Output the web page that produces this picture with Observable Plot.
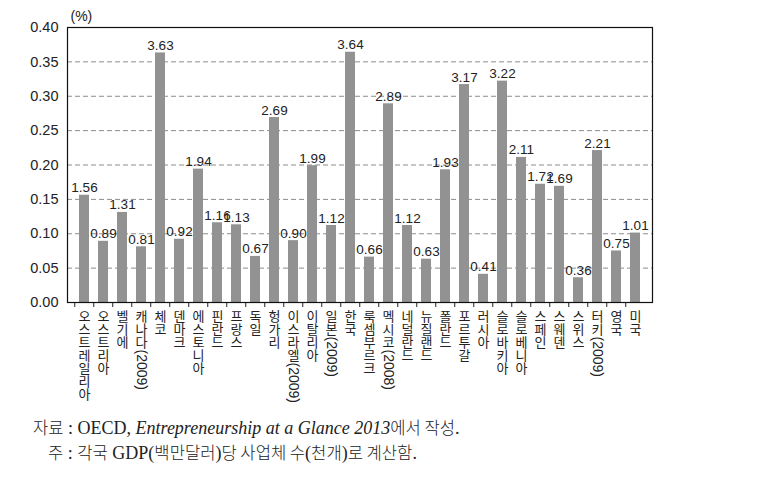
<!DOCTYPE html>
<html><head><meta charset="utf-8">
<script src="https://cdn.jsdelivr.net/npm/d3@7"></script>
<script src="https://cdn.jsdelivr.net/npm/@observablehq/plot@0.6"></script>
<style>
body{margin:0;background:#fff;}
#wrap{position:relative;width:767px;height:488px;overflow:hidden;}
.cap{position:absolute;font-family:"Liberation Serif",serif;font-size:18px;color:#222;white-space:nowrap;line-height:1}
.ko{font-family:"Noto Sans CJK KR",sans-serif;font-size:16.6px;font-weight:300}
</style></head><body>
<div id="wrap"><div id="chart"></div>
<div class="cap" style="left:33px;top:419px"><span class="ko">자료</span> : OECD, <i>Entrepreneurship at a Glance 2013</i><span class="ko">에서 작성</span>.</div>
<div class="cap" style="left:48px;top:444px"><span class="ko">주</span> : <span class="ko">각국</span> GDP(<span class="ko">백만달러</span>)<span class="ko">당 사업체 수</span>(<span class="ko">천개</span>)<span class="ko">로 계산함</span>.</div>
</div>
<script>
const countries = ["오스트레일리아","오스트리아","벨기에","캐나다(2009)","체코","덴마크","에스토니아","핀란드","프랑스","독일","헝가리","이스라엘(2009)","이탈리아","일본(2009)","한국","룩셈부르크","멕시코(2008)","네덜란드","뉴질랜드","폴란드","포르투갈","러시아","슬로바키아","슬로베니아","스페인","스웨덴","스위스","터키(2009)","영국","미국"];
const values = [0.156,0.089,0.131,0.081,0.363,0.092,0.194,0.116,0.113,0.067,0.269,0.090,0.199,0.112,0.364,0.066,0.289,0.112,0.063,0.193,0.317,0.041,0.322,0.211,0.172,0.169,0.036,0.221,0.075,0.101];
const valueLabels = ["1.56","0.89","1.31","0.81","3.63","0.92","1.94","1.16","1.13","0.67","2.69","0.90","1.99","1.12","3.64","0.66","2.89","1.12","0.63","1.93","3.17","0.41","3.22","2.11","1.72","1.69","0.36","2.21","0.75","1.01"];
const yTicks = [0,0.05,0.10,0.15,0.20,0.25,0.30,0.35,0.40];
const gridTicks = [0.05,0.10,0.15,0.20,0.25,0.30,0.35];
const unitLabel = ["(%)"];

const data = countries.map((c,i)=>{
  const m = c.match(/^(.*?)(\(.*\))?$/);
  return {country:c, name:m[1], suffix:m[2]||null, value:values[i], label:valueLabels[i]};
});
const W=767,H=418,mL=67,mR=115,mT=27,mB=H-302;
const step=(W-mL-mR)/countries.length;
const fs=13, lh=1.0, pitch=fs*lh, topDy=9;

const suffixMarks = [...new Set(data.filter(d=>d.suffix).map(d=>d.name.length))].map(n =>
  Plot.text(data.filter(d=>d.suffix && d.name.length===n),{x:"country",y:0,text:"suffix",rotate:90,textAnchor:"start",lineAnchor:"middle",dy:topDy-1+n*pitch,fontSize:14,fill:"#222"})
);

const chart = Plot.plot({
  width:W,height:H,marginLeft:mL,marginRight:mR,marginTop:mT,marginBottom:mB,
  style:{fontFamily:"'Liberation Sans', Arial, sans-serif", background:"#fff", color:"#222"},
  x:{type:"band",domain:countries,paddingInner:0.49,paddingOuter:0.245, axis:null},
  y:{domain:[0,0.4], axis:null},
  marks:[
    Plot.ruleY(gridTicks,{stroke:"#8c8c8c",strokeDasharray:"5,3",strokeWidth:1}),
    Plot.barY(data,{x:"country",y:"value",fill:"#929293"}),
    Plot.text(data,{x:"country",y:"value",text:"label",ariaLabel:"value-labels",dy:-3,lineAnchor:"bottom",fontSize:13.5,fill:"#222"}),
    Plot.axisY({ticks:yTicks,tickFormat:d3.format(".2f"),tickSize:0,tickPadding:9,fontSize:14.5,label:null}),
    Plot.axisX({tickSize:5,tickFormat:()=>"",dx:-step/2,label:null}),
    Plot.frame({stroke:"#111",strokeWidth:1.2}),
    Plot.text(data,{x:"country",y:0,text:d=>d.name.split("").join("\n"),lineHeight:lh,textAnchor:"middle",lineAnchor:"top",dy:topDy,fontSize:fs,fontFamily:"'Noto Sans CJK KR', sans-serif",fill:"#222"}),
    ...suffixMarks,
    Plot.text(unitLabel,{frameAnchor:"top-left",text:d=>d,textAnchor:"start",lineAnchor:"bottom",dx:3,dy:-7,fontSize:14,fill:"#222"})
  ]
});
const vg = chart.querySelector('g[aria-label="value-labels"]');
if (vg) vg.querySelectorAll("text").forEach(t=>{ const tr=t.getAttribute("transform")||""; t.setAttribute("transform", tr+" scale(0.78,1)"); });
document.getElementById("chart").appendChild(chart);
</script>
</body></html>
